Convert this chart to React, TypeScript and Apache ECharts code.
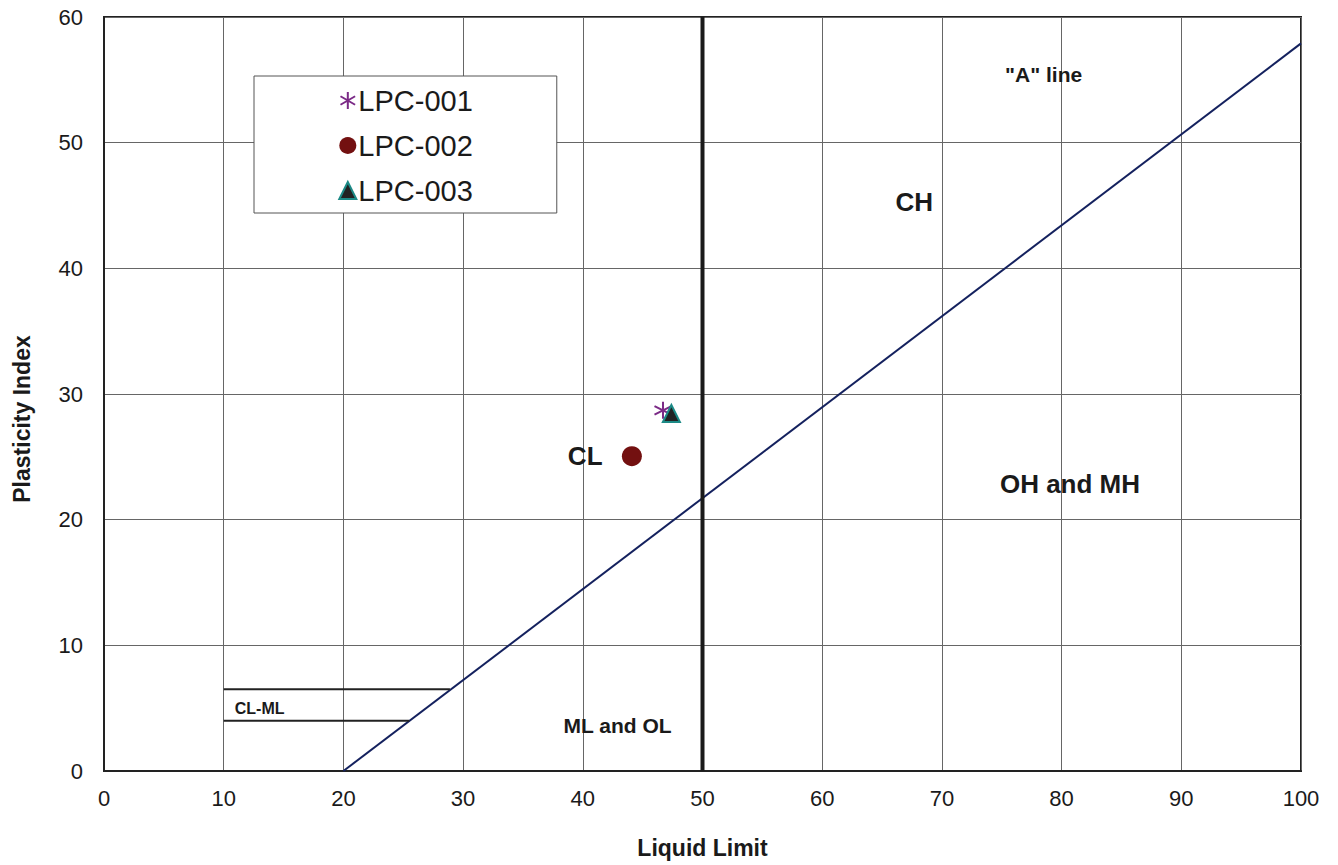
import React, { useEffect, useRef } from "react";
import * as echarts from "echarts";

const xTicks = [0, 100, 10];
const yTicks = [0, 60, 10];

const xAxisTitle = "Liquid Limit";
const yAxisTitle = "Plasticity Index";

const seriesNames = ["LPC-001", "LPC-002", "LPC-003"];
const lpc001 = [[46.7, 28.7]];
const lpc002 = [[44.1, 25.05]];
const lpc003 = [[47.4, 28.45]];

const aLine = [[20, 0], [100, 57.9]];
const clmlUpper = [[10, 6.5], [28.9, 6.5]];
const clmlLower = [[10, 4], [25.5, 4]];
const llDivider = [[50, 0], [50, 60]];

const zoneLabels: { name: string; value: [number, number]; size: number }[] = [
  { name: "CH", value: [67.7, 45.3], size: 26 },
  { name: "CL", value: [40.2, 25.1], size: 26 },
  { name: "OH and MH", value: [80.7, 22.8], size: 26 },
  { name: "ML and OL", value: [42.9, 3.65], size: 21 },
  { name: '"A" line', value: [78.5, 55.4], size: 21 },
  { name: "CL-ML", value: [13.0, 5.0], size: 16 },
];

const asterisk = "path://M5 0 L5 10 M0.7 2.5 L9.3 7.5 M0.7 7.5 L9.3 2.5";

export default function App() {
  const ref = useRef<HTMLDivElement>(null);
  useEffect(() => {
    const chart = echarts.init(ref.current!, null, { renderer: "svg" });
    const font = "'Liberation Sans', Arial, Helvetica, sans-serif";
    const lineSeries = (data: number[][], color: string, width: number) => ({
      type: "line",
      data,
      symbol: "none",
      silent: true,
      lineStyle: { color, width },
      z: 3,
    });
    chart.setOption({
      animation: false,
      textStyle: { fontFamily: font },
      grid: {
        left: 104,
        right: 1338 - 1301,
        top: 17,
        bottom: 865 - 771,
        show: true,
        borderColor: "#222",
        borderWidth: 2,
        backgroundColor: "transparent",
      },
      graphic: [
        {
          type: "text",
          x: 22,
          y: 419,
          rotation: Math.PI / 2,
          style: {
            text: yAxisTitle,
            fontSize: 23,
            fontWeight: "bold",
            fill: "#1a1a1a",
            fontFamily: font,
            align: "center",
            verticalAlign: "middle",
          },
        },
      ],
      legend: {
        orient: "vertical",
        left: 254,
        top: 76,
        padding: [10, 84, 8, 84],
        itemGap: 16,
        itemWidth: 17,
        itemHeight: 17,
        backgroundColor: "#fff",
        borderColor: "#555",
        borderWidth: 1,
        borderRadius: 0,
        textStyle: { fontSize: 29, color: "#1a1a1a", fontFamily: font, padding: [0, 0, 0, -3] },
        data: seriesNames,
      },
      xAxis: {
        type: "value",
        min: xTicks[0],
        max: xTicks[1],
        interval: xTicks[2],
        name: xAxisTitle,
        nameLocation: "middle",
        nameGap: 65,
        nameTextStyle: { fontSize: 23, fontWeight: "bold", color: "#1a1a1a", fontFamily: font },
        axisLine: { lineStyle: { color: "#222", width: 2 } },
        axisTick: { show: false },
        axisLabel: { fontSize: 22, color: "#1a1a1a", margin: 16, fontFamily: font },
        splitLine: { lineStyle: { color: "#666", width: 1 } },
      },
      yAxis: {
        type: "value",
        min: yTicks[0],
        max: yTicks[1],
        interval: yTicks[2],
        axisLine: { lineStyle: { color: "#222", width: 2 } },
        axisTick: { show: false },
        axisLabel: { fontSize: 22, color: "#1a1a1a", margin: 21, fontFamily: font },
        splitLine: { lineStyle: { color: "#666", width: 1 } },
      },
      series: [
        lineSeries(aLine, "#14215e", 2),
        lineSeries(clmlUpper, "#222", 2),
        lineSeries(clmlLower, "#222", 2),
        lineSeries(llDivider, "#1a1a1a", 4),
        {
          type: "scatter",
          silent: true,
          symbolSize: 0,
          itemStyle: { opacity: 1 },
          data: zoneLabels.map((z) => ({
            name: z.name,
            value: z.value,
            label: { fontSize: z.size },
          })),
          label: {
            show: true,
            position: "inside",
            formatter: "{b}",
            fontWeight: "bold",
            color: "#1a1a1a",
            fontFamily: font,
          },
          z: 4,
        },
        {
          name: seriesNames[0],
          type: "scatter",
          data: lpc001,
          symbol: asterisk,
          symbolSize: 17,
          itemStyle: { color: "none", borderColor: "#7b2a86", borderWidth: 2, opacity: 1 },
          z: 5,
        },
        {
          name: seriesNames[1],
          type: "scatter",
          data: lpc002,
          symbol: "circle",
          symbolSize: 20,
          itemStyle: { color: "#731010", opacity: 1 },
          z: 5,
        },
        {
          name: seriesNames[2],
          type: "scatter",
          data: lpc003,
          symbol: "triangle",
          symbolSize: [17, 17],
          itemStyle: { color: "#222", borderColor: "#1c8a86", borderWidth: 2, opacity: 1 },
          z: 6,
        },
      ],
    });
    return () => chart.dispose();
  }, []);
  return (
    <div
      ref={ref}
      style={{ position: "absolute", left: 0, top: 0, width: 1338, height: 865 }}
    />
  );
}
